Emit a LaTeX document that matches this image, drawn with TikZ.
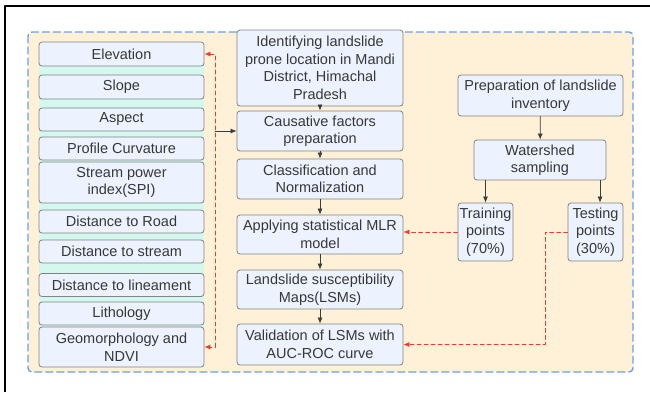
\documentclass[tikz,border=0pt]{standalone}
\usepackage{fontspec}
\usetikzlibrary{arrows.meta}
\setmainfont{Liberation Sans}
\definecolor{panelfill}{RGB}{254,241,216}
\definecolor{paneldash}{RGB}{104,160,232}
\definecolor{factorbg}{RGB}{212,247,238}
\definecolor{boxfill}{RGB}{236,243,254}
\definecolor{boxline}{RGB}{130,130,130}
\definecolor{txtgray}{RGB}{55,55,55}
\definecolor{flowgray}{RGB}{60,60,60}
\definecolor{linkred}{RGB}{232,60,50}
\tikzset{
  stepbox/.style={draw=boxline,fill=boxfill,line width=0.8pt,rounded corners=3pt,
    align=center,inner sep=1pt,text=txtgray},
  factor/.style={stepbox,minimum width=165pt},
  stage/.style={stepbox,minimum width=166pt},
  flow/.style={->,draw=flowgray,line width=0.7pt},
  link/.style={->,draw=linkred,line width=0.7pt,dash pattern=on 4pt off 3pt}
}
\begin{document}
\begin{tikzpicture}[x=1pt,y=-1pt,>={Latex[length=6pt,width=5pt]},line join=round,line cap=round,font=\fontsize{14.5}{17.5}\selectfont]
	\useasboundingbox (0,0) rectangle (650,392);
	% frame and panel
	\draw[line width=2pt,line cap=butt] (5,392)--(5,6)--(650,6);
	\draw[draw=paneldash,fill=panelfill,line width=1.4pt,dash pattern=on 7pt off 4pt,rounded corners=4pt] (28,32) rectangle (633,372);
	\fill[factorbg] (39,44) rectangle (204,365);

	% factors
	\node[factor,minimum height=24pt] (elev) at (121.5,54) {Elevation};
	\node[factor,minimum height=24pt] (slope) at (121.5,87) {Slope};
	\node[factor,minimum height=23pt] (aspect) at (121.5,119.5) {Aspect};
	\node[factor,minimum height=23pt] (curv) at (121.5,148.5) {Profile Curvature};
	\node[factor,minimum height=41pt] (spi) at (121.5,182.5) {Stream power\\index(SPI)};
	\node[factor,minimum height=23pt] (road) at (121.5,221.5) {Distance to Road};
	\node[factor,minimum height=23pt] (stream) at (121.5,251.5) {Distance to stream};
	\node[factor,minimum height=23pt] (linea) at (121.5,285) {Distance to lineament};
	\node[factor,minimum height=23pt] (litho) at (121.5,313.5) {Lithology};
	\node[factor,minimum height=40pt] (geom) at (121.5,347) {Geomorphology and\\NDVI};

	% main stages
	\node[stage,minimum height=76pt] (ident) at (320,68) {Identifying landslide\\prone location in Mandi\\District, Himachal\\Pradesh};
	\node[stage,minimum height=40pt] (caus) at (320,131) {Causative factors\\preparation};
	\node[stage,minimum height=40pt] (class) at (320,179) {Classification and\\Normalization};
	\node[stage,minimum height=39pt] (mlr) at (320,234.5) {Applying statistical MLR\\model};
	\node[stage,minimum height=39pt] (lsm) at (320,289.5) {Landslide susceptibility\\Maps(LSMs)};
	\node[stage,minimum height=41pt] (valid) at (320,344.5) {Validation of LSMs with\\AUC-ROC curve};

	% inventory
	\node[stepbox,minimum width=165pt,minimum height=41pt] (invent) at (540.5,95.5) {Preparation of landslide\\inventory};
	\node[stepbox,minimum width=132pt,minimum height=40pt] (shed) at (540,160) {Watershed\\sampling};
	\node[stepbox,minimum width=55pt,minimum height=58pt] (train) at (485.5,232) {Training\\points\\(70\%)};
	\node[stepbox,minimum width=55pt,minimum height=58pt] (test) at (595.5,232) {Testing\\points\\(30\%)};

	\coordinate (spine) at (215,0);
	\coordinate (split) at (545,0);

	\draw[flow] (ident)--(caus);
	\draw[flow] (caus)--(class);
	\draw[flow] (class)--(mlr);
	\draw[flow] (mlr)--(lsm);
	\draw[flow] (lsm)--(valid);
	\draw[flow] (spine|-caus)--(caus.west);
	\draw[flow] (invent)--(shed);
	\draw[flow] (shed.south-|train)--(train.north);
	\draw[flow] ([xshift=4.5pt]shed.south-|test)--([xshift=4.5pt]test.north);

	\draw[link,<->] (elev.east)--(elev.east-|spine)--(geom.east-|spine)--(geom.east);
	\draw[link] (train.west)--(train.west-|mlr.east);
	\draw[link] (test.west)--(test.west-|split)--(valid.east-|split)--(valid.east);

\end{tikzpicture}
\end{document}
